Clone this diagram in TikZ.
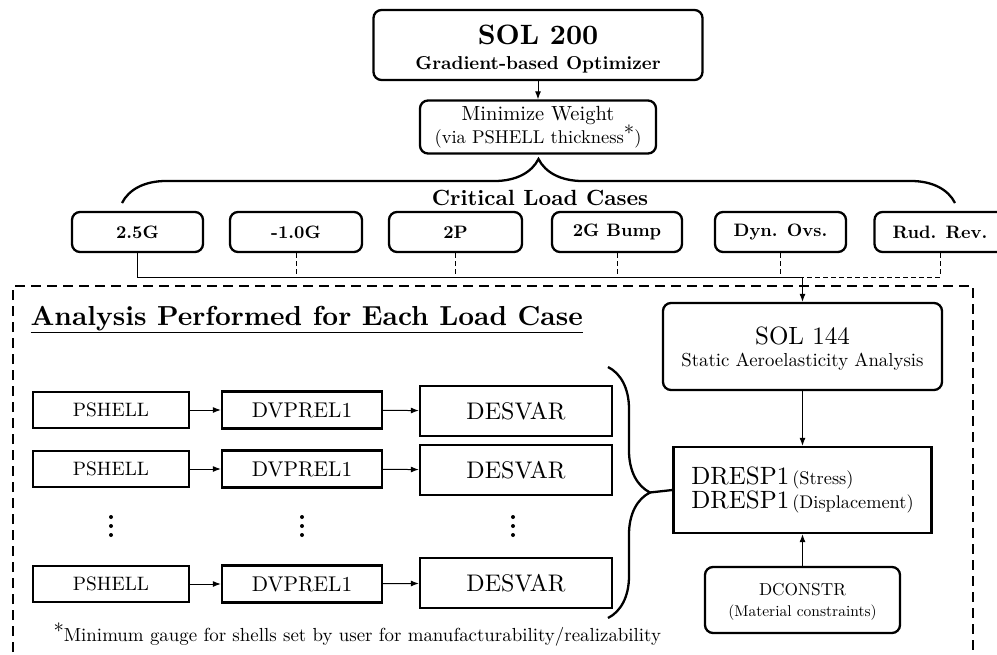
\documentclass[tikz,border=0pt]{standalone}
\usepackage{fontspec}
\setmainfont{lmroman10-regular.otf}[BoldFont=lmroman10-bold.otf,ItalicFont=lmroman10-italic.otf]
\usetikzlibrary{arrows.meta,decorations.pathreplacing}
\begin{document}
\begin{tikzpicture}[x=1pt,y=-1pt,>={Latex[length=8pt,width=6pt]},
  rbox/.style={draw,line width=2.3pt,rounded corners=8pt,align=center,inner sep=0pt},
  sbox/.style={draw,line width=2.3pt,align=center,inner sep=0pt},
  link/.style={->,line width=1pt},
  lcase/.style={rbox,minimum height=40,font=\fontsize{18}{19}\selectfont\bfseries},
  shellbox/.style={sbox,minimum width=156,minimum height=36,font=\fontsize{19.4}{20}\selectfont},
  relbox/.style={sbox,minimum width=160,minimum height=37,font=\fontsize{21.3}{22}\selectfont},
  varbox/.style={sbox,minimum width=192,minimum height=50,font=\fontsize{24}{25}\selectfont},
  brc/.style={decorate,decoration={brace,amplitude=#1},line width=2.3pt}]
\useasboundingbox (0,0) rectangle (997,654);

% optimizer and objective
\node[rbox,minimum width=329,minimum height=70,font=\fontsize{18.7}{25}\selectfont\bfseries] (sol200) at (538,45)
  {\rule{0pt}{28pt}{\fontsize{28}{25}\selectfont SOL 200}\\Gradient-based Optimizer};
\node[rbox,minimum width=236,minimum height=53,font=\fontsize{18.5}{23}\selectfont] (minw) at (538,127)
  {{\fontsize{20.5}{23}\selectfont Minimize Weight}\\(via PSHELL thickness\raisebox{1.1ex}{\fontsize{20}{20}\selectfont$\ast$})};
\draw[link] (sol200.south -| minw.north) -- (minw.north);

% load cases
\draw[brc=44pt] (122,203) -- (955,203);
\node[anchor=base,font=\fontsize{22}{24}\selectfont\bfseries] (crit) at (540,205) {Critical Load Cases};
\node[lcase,minimum width=131] (lc1) at (137.5,232) {2.5G};
\node[lcase,minimum width=132] (lc2) at (296,232) {-1.0G};
\node[lcase,minimum width=133] (lc3) at (455.5,232) {2P};
\node[lcase,minimum width=130] (lc4) at (617,232) {2G Bump};
\node[lcase,minimum width=131] (lc5) at (780.5,232) {Dyn. Ovs.};
\node[lcase,minimum width=131] (lc6) at (940,232) {Rud. Rev.};

\coordinate (jn) at (802.5,277);
\draw[line width=1pt] (lc1.south) |- (jn);
\draw[line width=1pt,dash pattern=on 5pt off 3pt] (lc2.south) -- (lc2.south |- jn);
\draw[line width=1pt,dash pattern=on 5pt off 3pt] (lc3.south) -- (lc3.south |- jn);
\draw[line width=1pt,dash pattern=on 5pt off 3pt] (lc4.south) -- (lc4.south |- jn);
\draw[line width=1pt,dash pattern=on 5pt off 3pt] (lc5.south) -- (lc5.south |- jn);
\draw[line width=1pt,dash pattern=on 5pt off 3pt] (lc6.south) |- (jn);

% per load case analysis
\draw[line width=2.3pt,dash pattern=on 10pt off 6pt] (13,700) -- (13,286) -- (973,286) -- (973,700);
\node[anchor=base west,font=\fontsize{27.5}{28}\selectfont\bfseries] (title) at (27,325) {\underline{Analysis Performed for Each Load Case}};

\node[rbox,minimum width=279,minimum height=87,font=\fontsize{18.8}{22}\selectfont] (sol144) at (802.5,346.5)
  {\rule{0pt}{21pt}{\fontsize{25}{22}\selectfont SOL 144}\\Static Aeroelasticity Analysis};
\draw[link] (jn) -- (sol144.north);

\node[sbox,minimum width=258,minimum height=86,align=left,font=\fontsize{25}{24}\selectfont] (dresp) at (802.5,490)
  {DRESP1\hspace{3pt}{\fontsize{18.3}{24}\selectfont (Stress)}\\DRESP1\hspace{3pt}{\fontsize{18.3}{24}\selectfont (Displacement)}};
\node[rbox,minimum width=195,minimum height=66,font=\fontsize{15.5}{21}\selectfont] (dcon) at (802.5,600)
  {\rule{0pt}{16pt}{\fontsize{17.3}{21}\selectfont DCONSTR}\\(Material constraints)};
\draw[link] (sol144.south) -- (dresp.north);
\draw[link] (dcon.north) -- (dresp.south);

\node[shellbox] (ps1) at (111,410) {PSHELL};
\node[relbox] (dv1) at (302,410) {DVPREL1};
\node[varbox] (ds1) at (516,411) {DESVAR};
\node[shellbox] (ps2) at (111,469) {PSHELL};
\node[relbox] (dv2) at (302,469) {DVPREL1};
\node[varbox] (ds2) at (516,470) {DESVAR};
\node[shellbox] (ps4) at (111,584) {PSHELL};
\node[relbox] (dv4) at (302,584) {DVPREL1};
\node[varbox] (ds4) at (516,583) {DESVAR};
\draw[link] (ps1) -- (dv1);
\draw[link] (dv1) -- (ds1);
\draw[link] (ps2) -- (dv2);
\draw[link] (dv2) -- (ds2);
\draw[link] (ps4) -- (dv4);
\draw[link] (dv4) -- (ds4);

% vertical ellipses between the rows
\foreach \cx in {111,302,513}
  \foreach \cy in {517,526,535}
    \fill (\cx,\cy) circle (2pt);

\draw[brc=42pt] (608,367) -- (608,618);
\coordinate (brtip) at (650,492.5);
\draw[line width=2.3pt] (brtip) -- (dresp.west);

\node[anchor=base west,font=\fontsize{18.9}{20}\selectfont] (note) at (50,641)
  {\raisebox{1.1ex}{\fontsize{20}{20}\selectfont$\ast$}Minimum gauge for shells set by user for manufacturability/realizability};
\end{tikzpicture}
\end{document}
